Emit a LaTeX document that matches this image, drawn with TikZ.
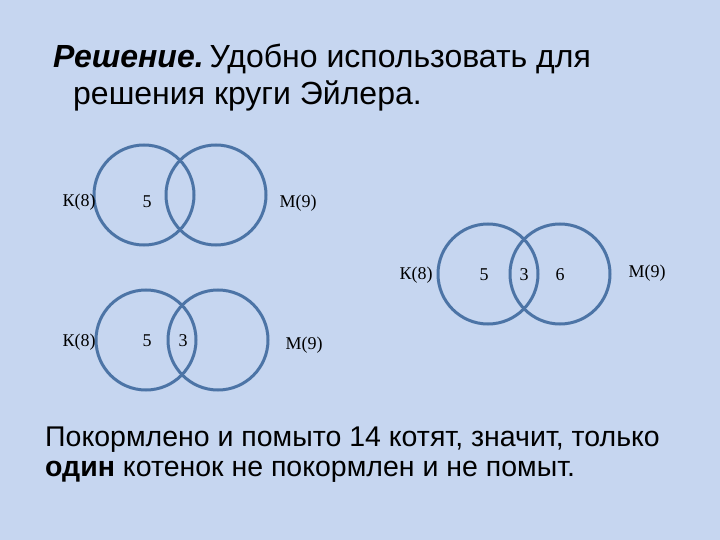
\documentclass[tikz,border=0pt]{standalone}
\usepackage{fontspec}
\setmainfont{Liberation Serif}
\newfontfamily\arialf{Liberation Sans}
\definecolor{bgblue}{HTML}{C6D6F0}
\definecolor{ringblue}{HTML}{4C74A6}
\tikzset{
  ring/.style={draw=ringblue, line width=3pt, circle, minimum size=100pt, inner sep=0pt},
  lbl/.style={font=\fontsize{18}{20}\selectfont, inner sep=0pt, text=black},
  ttl/.style={font=\arialf\fontsize{32}{38}\selectfont, anchor=base west, inner sep=0pt},
  btm/.style={font=\arialf\fontsize{28.5}{30}\selectfont, anchor=base west, inner sep=0pt}
}
\begin{document}
\begin{tikzpicture}[x=1pt,y=-1pt]
\fill[bgblue] (0,0) rectangle (720,540);
\useasboundingbox (0,0) rectangle (720,540);
% title
\node[ttl] (t1) at (53,68) {{\bfseries\itshape Решение.}\kern-3pt\ Удобно использовать для};
\node[ttl] (t2) at (73,105) {решения круги Эйлера.};
% diagram 1
\node[ring] (a1) at (144,195) {};
\node[ring] (a2) at (216,195) {};
\node[lbl] (ak) at (79,202) {К(8)};
\node[lbl] (a5) at (147,202) {5};
\node[lbl] (am) at (298,203) {М(9)};
% diagram 2
\node[ring] (b1) at (488,274) {};
\node[ring] (b2) at (560,274) {};
\node[lbl] (bk) at (416,275) {К(8)};
\node[lbl] (b5) at (484,275) {5};
\node[lbl] (b3) at (524,275) {3};
\node[lbl] (b6) at (560,275) {6};
\node[lbl] (bm) at (647,273) {М(9)};
% diagram 3
\node[ring] (c1) at (146,340) {};
\node[ring] (c2) at (218,340) {};
\node[lbl] (ck) at (79,342) {К(8)};
\node[lbl] (c5) at (147,341) {5};
\node[lbl] (c3) at (183,341) {3};
\node[lbl] (cm) at (304,345) {М(9)};
% bottom text
\node[btm] (x1) at (45,446) {Покормлено и помыто 14 котят, значит, только};
\node[btm] (x2) at (45,476) {\textbf{один} котенок не покормлен и не помыт.};
\end{tikzpicture}
\end{document}
